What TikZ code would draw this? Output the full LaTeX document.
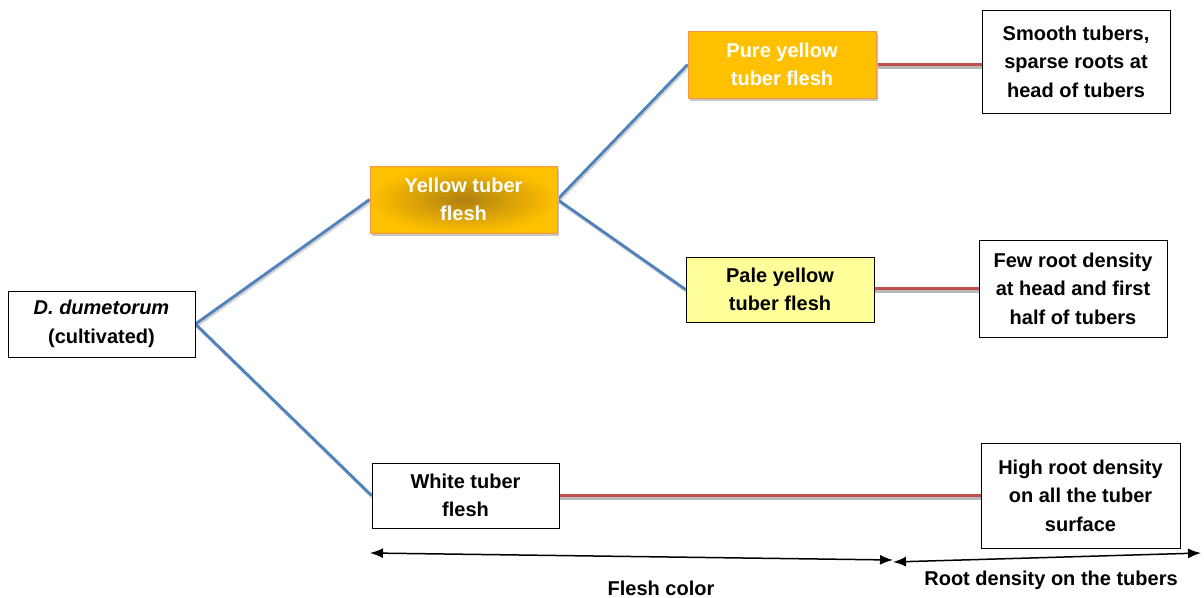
\documentclass[tikz,border=0pt]{standalone}
\usepackage{fontspec}
\setmainfont{Liberation Sans}
\usetikzlibrary{arrows.meta,backgrounds}
\definecolor{bluel}{HTML}{4F81BD}
\definecolor{redl}{HTML}{C0504D}
\definecolor{gold}{HTML}{FFC000}
\definecolor{darkgold}{HTML}{B08010}
\definecolor{orangeb}{HTML}{F79646}
\definecolor{paley}{HTML}{FFFF99}
\tikzset{
  box/.style={draw=black, line width=0.8pt, fill=white, minimum width=187pt, minimum height=66pt,
    align=center, inner sep=2pt, font=\fontsize{20}{28.5}\selectfont\bfseries},
  goldbox/.style={box, draw=orangeb, text=white,
    preaction={fill=gray!45, transform canvas={shift={(2pt,-3pt)}}}},
  blueline/.style={draw=bluel, line width=2.8pt,
    preaction={draw=gray!35, line width=2.8pt, transform canvas={shift={(1pt,-2pt)}}}},
  redline/.style={draw=redl, line width=3.4pt,
    preaction={draw=gray!55, line width=3.4pt, transform canvas={shift={(0pt,-3pt)}}}},
  dim/.style={draw=black, line width=1.5pt, {Latex[length=13pt,width=10pt]}-{Latex[length=13pt,width=10pt]}},
  lbl/.style={font=\fontsize{20}{22}\selectfont\bfseries, inner sep=0pt}
}
\begin{document}
\begin{tikzpicture}[x=1pt,y=-1pt]
\useasboundingbox (0,0) rectangle (1204,597);
% nodes
\node[box] (d) at (101.5,324) {\textit{D. dumetorum}\\(cultivated)};
\node[goldbox, inner color=darkgold, outer color=gold, minimum height=67pt] (yel) at (463.5,199.5) {Yellow tuber\\flesh};
\node[goldbox, fill=gold, minimum width=188pt, minimum height=67pt] (pure) at (782,64.5) {Pure yellow\\tuber flesh};
\node[box, fill=paley, minimum width=188pt, minimum height=65pt] (pale) at (780,289.5) {Pale yellow\\tuber flesh};
\node[box, minimum height=65pt] (white) at (465.5,495.5) {White tuber\\flesh};
\node[box, minimum width=188pt, minimum height=103pt] (smooth) at (1076,61.5) {Smooth tubers,\\sparse roots at\\head of tubers};
\node[box, minimum width=188pt, minimum height=97pt] (few) at (1073,288.5) {Few root density\\at head and first\\half of tubers};
\node[box, minimum width=199pt, minimum height=105pt] (high) at (1080.5,495.5) {High root density\\on all the tuber\\surface};
% connectors
\begin{scope}[on background layer]
\draw[blueline] (d.east) -- (yel.west);
\draw[blueline] (d.east) -- (white.west);
\draw[blueline] (yel.east) -- (pure.west);
\draw[blueline] (yel.east) -- (pale.west);
\draw[redline] (pure.east) -- (smooth.west |- pure.east);
\draw[redline] (pale.east |- few.west) -- (few.west);
\draw[redline] (white.east) -- (high.west);
\end{scope}
% dimension arrows
\coordinate (a1) at (370,553);
\coordinate (a2) at (893,560);
\coordinate (b1) at (893,562);
\coordinate (b2) at (1201,553);
\draw[dim] (a1) -- (a2);
\draw[dim] (b1) -- (b2);
\node[lbl] (fc) at (661,588) {Flesh color};
\node[lbl] (rd) at (1051,580) {Root density on the tubers};
\end{tikzpicture}
\end{document}
